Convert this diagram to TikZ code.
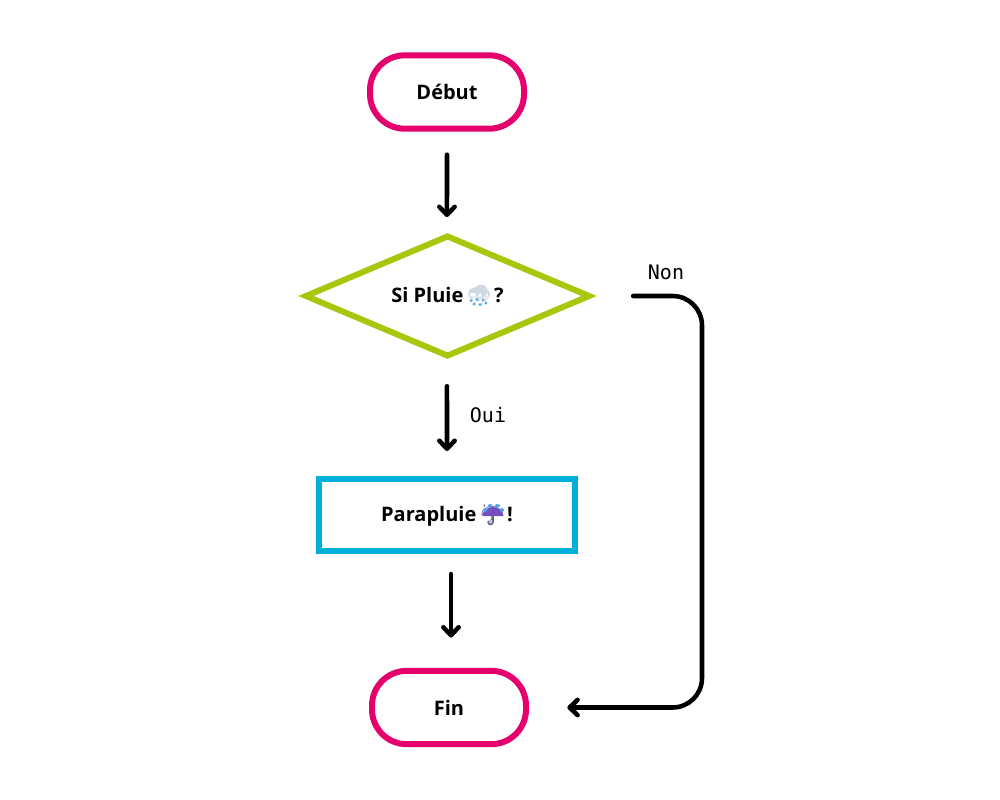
\documentclass[tikz,border=0pt]{standalone}
\usepackage{fontspec}
\setmainfont{Open Sans}
\newfontfamily\monof{DejaVu Sans Mono}
\newfontfamily\emojif{Noto Emoji}
\usetikzlibrary{shapes.geometric,arrows.meta}
\definecolor{pinkc}{HTML}{E6006E}
\definecolor{greenc}{HTML}{A6C70B}
\definecolor{bluec}{HTML}{00B0D8}
\definecolor{cloudc}{HTML}{CFD9E3}
\definecolor{dropc}{HTML}{4FA3E3}
\definecolor{umbc}{HTML}{7350BE}
\definecolor{handc}{HTML}{5F7080}
\newcommand{\emo}[2]{\hspace{-1.9pt}{\emojif\color{#1}\fontsize{15}{18}\selectfont\symbol{#2}}\hspace{-1.9pt}}
\tikzset{
  x=0.75pt,y=-0.75pt,
  box/.style={line width=4.5pt,outer sep=0pt,inner sep=0pt,font=\fontsize{15}{18}\selectfont\bfseries,text=black},
  pill/.style={box,draw=pinkc,rounded corners=26pt,minimum width=115.5pt,minimum height=55pt},
  choice/.style={box,draw=greenc,diamond,aspect=2.4,minimum width=212.4pt,minimum height=89.4pt},
  proc/.style={box,draw=bluec,minimum width=192pt,minimum height=54pt},
  flow/.style={line width=3.4pt,line cap=round,line join=round,-{Straight Barb[length=6pt,width=11.5pt,line width=3.4pt,round]}},
  lab/.style={font=\monof\fontsize{15}{18}\selectfont,text=black,inner sep=0pt}
}
\begin{document}
\begin{tikzpicture}
\path[use as bounding box,fill=white] (0,0) rectangle (1000,800);
% colour fill under the emoji glyphs
\fill[cloudc] (474,293) circle[radius=5.5] (481,291) circle[radius=6.5] (485.5,294) circle[radius=4.5] (470,293) rectangle (488,298.5);
\fill[umbc] (482.5,516) arc[start angle=180,end angle=360,x radius=10.5,y radius=9] -- cycle;
\node[pill] (debut) at (447,92) {Début};
\node[choice] (si) at (447.5,296) {Si Pluie \emo{cloudc}{"1F327} ?};
\node[proc] (para) at (447,515) {Parapluie \emo{umbc}{"2614} !};
\node[pill] (fin) at (449,707.5) {Fin};
\node[lab] (oui) at (488,415) {Oui};
\node[lab] (non) at (666,272.5) {Non};
\fill[dropc] (471,300.5) circle[radius=1.5] (477,299.5) circle[radius=1.5] (483,300) circle[radius=1.5] (474,304) circle[radius=1.5] (480,304.5) circle[radius=1.5] (486,303) circle[radius=1.5];
\fill[dropc] (485,510) circle[radius=2] (490,506) circle[radius=2] (497,506) circle[radius=2] (502,510) circle[radius=2];
\draw[handc,line width=1.2pt,line cap=round] (493,516) -- (493,522) arc[start angle=0,end angle=180,radius=2.5];
\draw[flow,shorten <=19.5pt,shorten >=14.5pt] (debut.south) -- ([xshift=-0.4pt]si.north);
\draw[flow,shorten <=23pt,shorten >=21pt] ([xshift=-0.4pt]si.south) -- (para.north);
\draw[flow,shorten <=17.25pt,shorten >=25pt] ([xshift=3pt]para.south) -- ([xshift=1.5pt]fin.north);
\draw[flow,rounded corners=22pt,shorten <=33pt,shorten >=31pt] (si.east) -- (702,296) -- (702,707.5) -- (fin.east);
\end{tikzpicture}
\end{document}
